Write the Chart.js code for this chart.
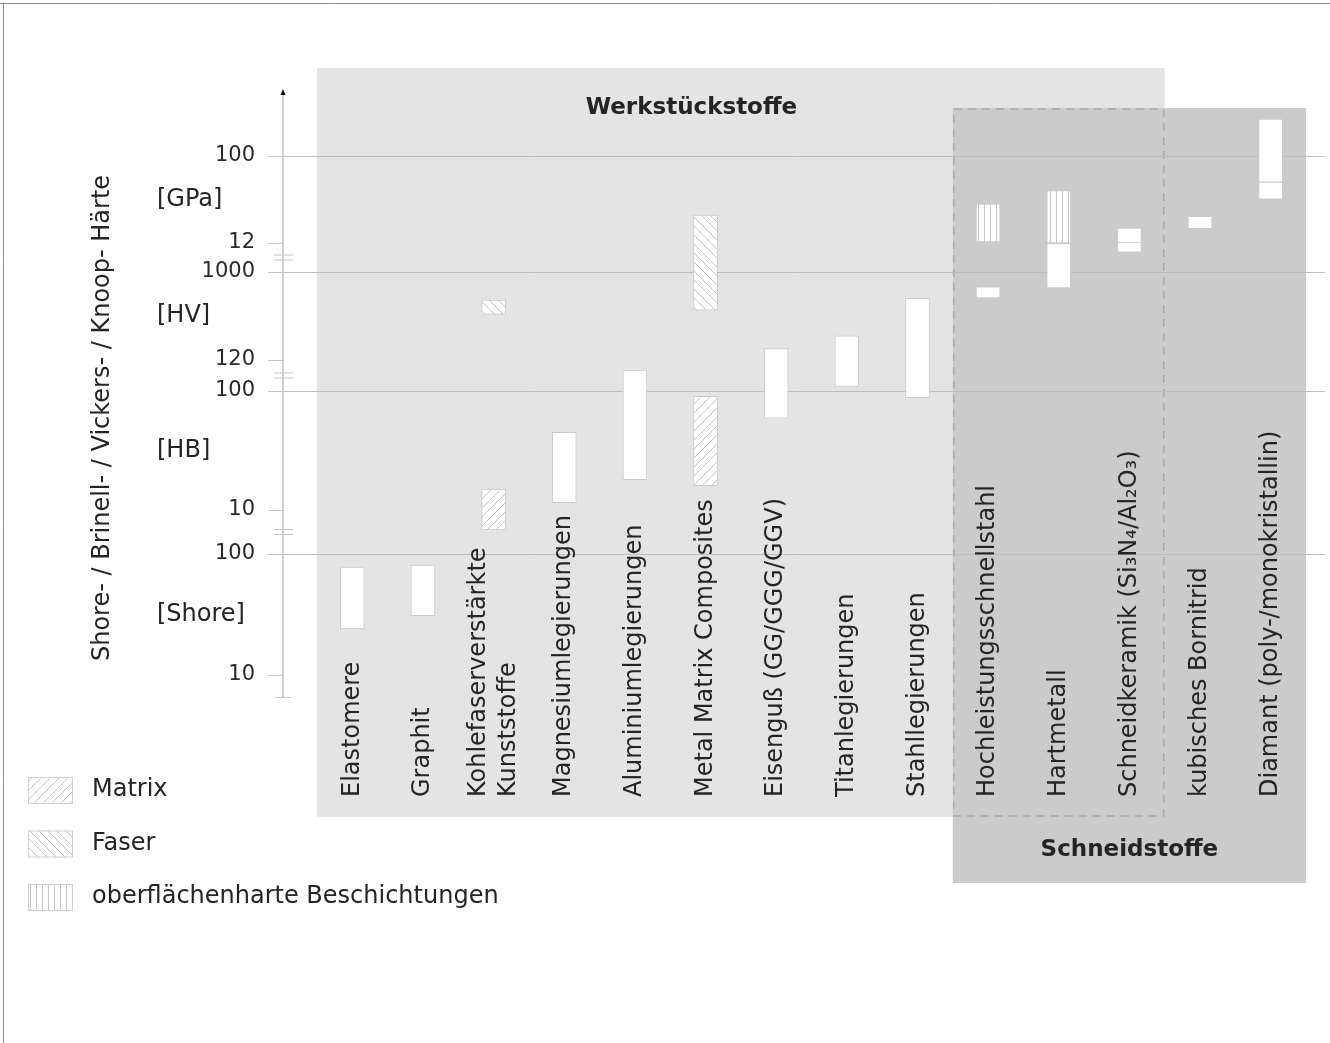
<!DOCTYPE html>
<html>
<head>
    <meta charset="utf-8">
    <title>Härte von Werkstück- und Schneidstoffen</title>
    <script src="https://cdn.jsdelivr.net/npm/chart.js"></script>
    <style>
        body { margin: 0; background: #ffffff; }
        #wrap { position: relative; width: 1330px; height: 1043px; }
    </style>
</head>
<body>
<div id="wrap"><canvas id="hardnessChart"></canvas></div>

<script>
// categories (x axis)
const categories = [
    'Elastomere', 'Graphit', ['Kohlefaserverstärkte', 'Kunststoffe'],
    'Magnesiumlegierungen', 'Aluminiumlegierungen', 'Metal Matrix Composites',
    'Eisenguß (GG/GGG/GGV)', 'Titanlegierungen', 'Stahllegierungen',
    'Hochleistungsschnellstahl', 'Hartmetall', 'Schneidkeramik (Si₃N₄/Al₂O₃)',
    'kubisches Bornitrid', 'Diamant (poly-/monokristallin)'
];

// hardness ranges [low, high], each bar in its own unit
const baseRange = [[24, 78], [31, 81], null, [11.5, 45], [18, 150], null, [59, 227], [109, 291], [88, 600],
    [535, 700], [680, 2000], [12, 17.3], [17, 23], [35, 53]];
const baseUnit = ['Shore', 'Shore', null, 'HB', 'HB', null, 'HB', 'HB', 'HB', 'HV', 'HV', 'GPa', 'GPa', 'GPa'];

const base2Range = [null, null, null, null, null, null, null, null, null, null, null, [9.6, 13.8], null, [53, 246]];
const base2Unit = [null, null, null, null, null, null, null, null, null, null, null, 'GPa', null, 'GPa'];

const matrixRange = [null, null, [6.8, 15], null, null, [16, 90], null, null, null, null, null, null, null, null];
const matrixUnit = [null, null, 'HB', null, null, 'HB', null, null, null, null, null, null, null, null];

const faserRange = [null, null, [360, 510], null, null, [400, 3950], null, null, null, null, null, null, null, null];
const faserUnit = [null, null, 'HV', null, null, 'HV', null, null, null, null, null, null, null, null];

const coatRange = [null, null, null, null, null, null, null, null, null, [12.3, 31], [12, 43], null, null, null];
const coatUnit = [null, null, null, null, null, null, null, null, null, 'GPa', 'GPa', null, null, null];

// axis tick labels
const tickValues = [10, 100, 10, 100, 120, 1000, 12, 100];
const tickUnits = ['Shore', 'Shore', 'HB', 'HB', 'HV', 'HV', 'GPa', 'GPa'];
const unitOrder = ['Shore', 'HB', 'HV', 'GPa'];
const legendLabels = ['Matrix', 'Faser', 'oberflächenharte Beschichtungen'];

// the y axis is made of four log pieces stacked on one linear scale
const segments = {
    Shore: { lo: 10, hi: 100, from: 0, to: 1.008 },
    HB: { lo: 10, hi: 100, from: 1.375, to: 2.367 },
    HV: { lo: 120, hi: 1000, from: 2.625, to: 3.358 },
    GPa: { lo: 12, hi: 100, from: 3.6, to: 4.325 }
};

function toAxis(v, unit) {
    const s = segments[unit];
    const f = (Math.log10(v) - Math.log10(s.lo)) / (Math.log10(s.hi) - Math.log10(s.lo));
    return s.from + f * (s.to - s.from);
}

function toData(ranges, units) {
    return ranges.map((r, i) => r ? [toAxis(r[0], units[i]), toAxis(r[1], units[i])] : null);
}

const FONT = 'DejaVu Sans';
const TEXT = '#242424';

function makePattern(kind) {
    const s = kind === 'vertical' ? 6 : 9;
    const c = document.createElement('canvas');
    c.width = s; c.height = s;
    const g = c.getContext('2d');
    g.fillStyle = '#ffffff';
    g.fillRect(0, 0, s, s);
    g.strokeStyle = '#c6c6c6';
    g.lineWidth = 1;
    g.beginPath();
    if (kind === 'vertical') {
        g.moveTo(0.5, 0); g.lineTo(0.5, s);
    } else if (kind === 'up') {
        g.moveTo(0, s); g.lineTo(s, 0);
        g.moveTo(-1, 1); g.lineTo(1, -1);
        g.moveTo(s - 1, s + 1); g.lineTo(s + 1, s - 1);
    } else {
        g.moveTo(0, 0); g.lineTo(s, s);
        g.moveTo(s - 1, -1); g.lineTo(s + 1, 1);
        g.moveTo(-1, s - 1); g.lineTo(1, s + 1);
    }
    g.stroke();
    return g.createPattern(c, 'repeat');
}

const matrixPattern = makePattern('up');
const faserPattern = makePattern('down');
const coatPattern = makePattern('vertical');
const legendPatterns = [matrixPattern, faserPattern, coatPattern];

function barSet(label, data, fill) {
    return {
        label: label,
        data: data,
        backgroundColor: fill,
        borderColor: '#cacaca',
        borderWidth: 1,
        borderSkipped: false,
        barThickness: 24
    };
}

// backgrounds, grid lines and the broken y axis
const decorations = {
    id: 'decorations',
    beforeDatasetsDraw(chart) {
        const ctx = chart.ctx;
        const x = chart.scales.x;
        const y = chart.scales.y;
        const area = chart.chartArea;
        const half = (x.getPixelForValue(1) - x.getPixelForValue(0)) / 2;
        const werkL = x.getPixelForValue(0) - half, werkR = x.getPixelForValue(11) + half;
        const schL = x.getPixelForValue(9) - half, schR = x.getPixelForValue(13) + half;
        const werkT = area.top, werkB = area.bottom - 66;
        const schT = area.top + 40, schB = area.bottom;

        ctx.save();
        ctx.fillStyle = '#e4e4e4';
        ctx.fillRect(werkL, werkT, werkR - werkL, werkB - werkT);
        ctx.fillStyle = '#cbcbcb';
        ctx.fillRect(schL, schT, schR - schL, schB - schT);

        // dashed outline where both groups overlap
        ctx.strokeStyle = '#a9a9a9';
        ctx.lineWidth = 1.5;
        ctx.setLineDash([8, 6]);
        ctx.strokeRect(schL + 1, schT + 1, werkR - schL - 2, werkB - schT - 2);
        ctx.setLineDash([]);

        const axisX = area.left - 34;

        // horizontal lines at the top of each piece
        ctx.strokeStyle = '#bdbdbd';
        ctx.lineWidth = 1;
        unitOrder.forEach(u => {
            const py = Math.round(y.getPixelForValue(segments[u].to)) + 0.5;
            ctx.beginPath();
            ctx.moveTo(axisX - 15, py);
            ctx.lineTo(area.right + 19, py);
            ctx.stroke();
        });

        // axis line with arrow
        ctx.strokeStyle = '#d2d2d2';
        ctx.lineWidth = 2;
        ctx.beginPath();
        ctx.moveTo(axisX, y.getPixelForValue(-0.183));
        ctx.lineTo(axisX, y.getPixelForValue(4.858));
        ctx.stroke();
        const tip = y.getPixelForValue(4.858);
        ctx.fillStyle = '#111111';
        ctx.beginPath();
        ctx.moveTo(axisX, tip - 3);
        ctx.lineTo(axisX - 2.5, tip + 3);
        ctx.lineTo(axisX + 2.5, tip + 3);
        ctx.closePath();
        ctx.fill();

        // tick marks
        ctx.strokeStyle = '#c4c4c4';
        ctx.lineWidth = 1;
        tickValues.forEach((v, i) => {
            const py = Math.round(y.getPixelForValue(toAxis(v, tickUnits[i]))) + 0.5;
            ctx.beginPath();
            ctx.moveTo(axisX - 15, py);
            ctx.lineTo(axisX, py);
            ctx.stroke();
        });
        // bottom end of the axis
        const bot = Math.round(y.getPixelForValue(-0.183)) + 0.5;
        ctx.beginPath();
        ctx.moveTo(axisX - 8, bot);
        ctx.lineTo(axisX + 8, bot);
        ctx.stroke();

        // break marks between the pieces
        for (let k = 0; k < unitOrder.length - 1; k++) {
            const a = y.getPixelForValue(segments[unitOrder[k]].to);
            const b = y.getPixelForValue(segments[unitOrder[k + 1]].from);
            const mid = (a + b) / 2;
            [-2.5, 2.5].forEach(d => {
                ctx.beginPath();
                ctx.moveTo(axisX - 9, mid + d);
                ctx.lineTo(axisX + 10, mid + d);
                ctx.stroke();
            });
        }
        ctx.restore();
    },

    afterDatasetsDraw(chart) {
        const ctx = chart.ctx;
        const x = chart.scales.x;
        const y = chart.scales.y;
        const area = chart.chartArea;
        const half = (x.getPixelForValue(1) - x.getPixelForValue(0)) / 2;
        const schL = x.getPixelForValue(9) - half, schR = x.getPixelForValue(13) + half;

        ctx.save();
        ctx.fillStyle = TEXT;

        // group titles
        ctx.font = 'bold 23px "' + FONT + '"';
        ctx.textAlign = 'center';
        ctx.textBaseline = 'middle';
        ctx.fillText('Werkstückstoffe', x.getPixelForValue(4.8), area.top + 40);
        ctx.fillText('Schneidstoffe', (schL + schR) / 2, area.bottom - 33);

        // category labels, written upwards from a common baseline
        ctx.font = '24px "' + FONT + '"';
        ctx.textAlign = 'left';
        categories.forEach((lab, i) => {
            const lines = Array.isArray(lab) ? lab : [lab];
            const cx = x.getPixelForValue(i);
            lines.forEach((line, j) => {
                const off = (j - (lines.length - 1) / 2) * 30;
                ctx.save();
                ctx.translate(cx + off, area.bottom - 86);
                ctx.rotate(-Math.PI / 2);
                ctx.fillText(line, 0, 0);
                ctx.restore();
            });
        });

        // unit names between the ticks
        ctx.font = '24px "' + FONT + '"';
        ctx.textAlign = 'left';
        unitOrder.forEach(u => {
            const s = segments[u];
            ctx.fillText('[' + u + ']', 157, y.getPixelForValue((s.from + s.to) / 2));
        });

        // y axis title
        ctx.save();
        ctx.translate(103, 418);
        ctx.rotate(-Math.PI / 2);
        ctx.textAlign = 'center';
        ctx.fillText('Shore- / Brinell- / Vickers- / Knoop- Härte', 0, 0);
        ctx.restore();

        // legend
        legendLabels.forEach((lab, i) => {
            const ly = 790 + i * 53.5;
            ctx.fillStyle = legendPatterns[i];
            ctx.fillRect(28, ly - 13, 45, 27);
            ctx.strokeStyle = '#d0d0d0';
            ctx.lineWidth = 1;
            ctx.strokeRect(28.5, ly - 12.5, 44, 26);
            ctx.fillStyle = TEXT;
            ctx.fillText(lab, 92, ly);
        });

        // frame
        ctx.strokeStyle = '#8c8c8c';
        ctx.lineWidth = 1;
        ctx.beginPath();
        ctx.moveTo(0, 3.5);
        ctx.lineTo(chart.width, 3.5);
        ctx.moveTo(3.5, 3.5);
        ctx.lineTo(3.5, chart.height);
        ctx.stroke();
        ctx.restore();
    }
};

const ctxChart = document.getElementById('hardnessChart').getContext('2d');
const hardnessChart = new Chart(ctxChart, {
    type: 'bar',
    data: {
        labels: categories,
        datasets: [
            barSet('Grundwerkstoff', toData(baseRange, baseUnit), '#ffffff'),
            barSet('Grundwerkstoff 2', toData(base2Range, base2Unit), '#ffffff'),
            barSet('Matrix', toData(matrixRange, matrixUnit), matrixPattern),
            barSet('Faser', toData(faserRange, faserUnit), faserPattern),
            barSet('oberflächenharte Beschichtungen', toData(coatRange, coatUnit), coatPattern)
        ]
    },
    options: {
        responsive: true,
        maintainAspectRatio: false,
        animation: false,
        layout: { padding: { top: 68, bottom: 160, left: 0, right: 24 } },
        plugins: {
            legend: { display: false },
            tooltip: { enabled: false }
        },
        scales: {
            x: {
                type: 'category',
                display: false,
                stacked: true
            },
            y: {
                type: 'linear',
                stacked: false,
                min: -1.7333,
                max: 5.0583,
                grid: { display: false, drawTicks: false },
                border: { display: false },
                afterFit: function (scale) {
                    scale.width = 317;
                    // the big label padding should not push the chart area down
                    scale.paddingTop = 0;
                    scale.paddingBottom = 0;
                },
                afterBuildTicks: function (scale) {
                    scale.ticks = tickValues.map((v, i) => ({ value: toAxis(v, tickUnits[i]) }));
                },
                ticks: {
                    autoSkip: false,
                    padding: 62,
                    color: '#2a2a2a',
                    font: { family: FONT, size: 21 },
                    callback: function (value, index) { return String(tickValues[index]); }
                }
            }
        }
    },
    plugins: [decorations]
});
</script>
</body>
</html>
